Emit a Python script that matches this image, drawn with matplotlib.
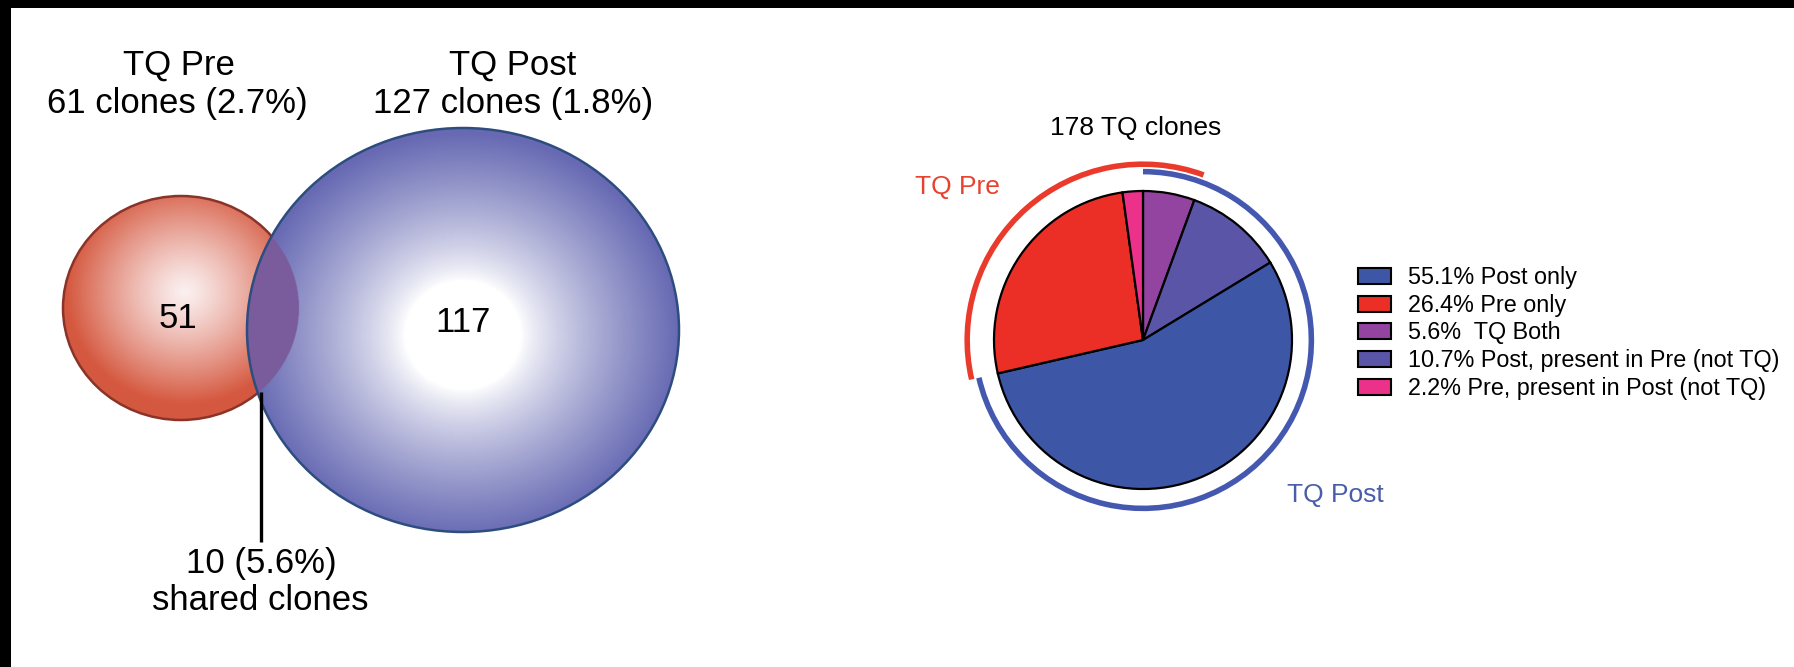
import numpy as np
import matplotlib
matplotlib.use("Agg")
import matplotlib.pyplot as plt
from matplotlib.patches import Ellipse, Arc, Rectangle, Patch
from matplotlib.colors import to_rgb

plt.rcParams["font.family"] = ["Liberation Sans", "DejaVu Sans"]

# --- data ---
venn_labels = ["TQ Pre", "TQ Post"]
venn_totals = [61, 127]
venn_pct = [2.7, 1.8]
venn_only = [51, 117]
venn_shared = 10
shared_pct = 5.6

pie_total = 178
pie_names = ["Post only", "Pre only", " TQ Both",
             "Post, present in Pre (not TQ)", "Pre, present in Post (not TQ)"]
pie_pct = [55.1, 26.4, 5.6, 10.7, 2.2]
pie_colors = ["#3D57A6", "#EC2F26", "#9343A0", "#5A55A6", "#EC318A"]
pie_order = [2, 3, 0, 1, 4]   # clockwise from 12 o'clock

W, H = 1794, 667
fig = plt.figure(figsize=(W / 100, H / 100), dpi=100)
fig.patch.set_facecolor("white")
ax = fig.add_axes([0, 0, 1, 1])

# black strips along top and left edge
ax.add_patch(Rectangle((0, 0), W, 8, color="black", lw=0))
ax.add_patch(Rectangle((0, 0), 11, H, color="black", lw=0))

# --- venn (shaded ellipses) ---
red_c, red_r, red_g = (181, 308), (118, 112), (185, 292)
blue_c, blue_r, blue_g = (463, 330), (216, 202), (463, 335)


def inside(xx, yy, c, r):
    return ((xx - c[0]) / r[0]) ** 2 + ((yy - c[1]) / r[1]) ** 2 <= 1


def shade(xx, yy, g, r, c0, c1, r0, gamma):
    rho = np.sqrt(((xx - g[0]) / r[0]) ** 2 + ((yy - g[1]) / r[1]) ** 2)
    t = np.clip((rho - r0) / (1 - r0), 0, 1) ** gamma
    return (1 - t)[..., None] * np.array(to_rgb(c0)) + t[..., None] * np.array(to_rgb(c1))


x0, x1, y0, y1 = 40, 720, 100, 560
xs = np.arange(x0, x1, 0.5) + 0.25
ys = np.arange(y0, y1, 0.5) + 0.25
xx, yy = np.meshgrid(xs, ys)
red_in = inside(xx, yy, red_c, red_r)
blue_in = inside(xx, yy, blue_c, blue_r)

img_red = np.zeros(xx.shape + (4,))
img_red[..., :3] = shade(xx, yy, red_g, red_r, "#FBF0F0", "#D5583F", 0.0, 1.2)
img_red[..., 3] = red_in

img_blue = np.zeros(xx.shape + (4,))
img_blue[..., :3] = shade(xx, yy, blue_g, blue_r, "#FFFFFF", "#676AB3", 0.27, 0.8)
img_blue[red_in & blue_in, :3] = to_rgb("#7B5C9D")
img_blue[..., 3] = blue_in

ext = (x0, x1, y1, y0)
ax.imshow(img_red, extent=ext, interpolation="bilinear", aspect="auto", zorder=1)
ax.add_patch(Ellipse(red_c, 2 * red_r[0], 2 * red_r[1], fill=False,
                     ec="#8A3328", lw=1.8, zorder=2))
ax.imshow(img_blue, extent=ext, interpolation="bilinear", aspect="auto", zorder=3)
ax.add_patch(Ellipse(blue_c, 2 * blue_r[0], 2 * blue_r[1], fill=False,
                     ec="#2D4D7F", lw=1.8, zorder=4))
ax.plot([261, 261], [392, 542], color="black", lw=2.4, zorder=5, solid_capstyle="butt")

fs_v = 25
ax.text(179, 65, venn_labels[0], ha="center", va="center", fontsize=fs_v)
ax.text(177, 103, f"{venn_totals[0]} clones ({venn_pct[0]}%)", ha="center", va="center", fontsize=fs_v)
ax.text(513, 65, venn_labels[1], ha="center", va="center", fontsize=fs_v)
ax.text(513, 103, f"{venn_totals[1]} clones ({venn_pct[1]}%)", ha="center", va="center", fontsize=fs_v)
ax.text(178, 318, str(venn_only[0]), ha="center", va="center", fontsize=fs_v, zorder=6)
ax.text(463, 322, str(venn_only[1]), ha="center", va="center", fontsize=fs_v, zorder=6)
ax.text(261, 564, f"{venn_shared} ({shared_pct}%)", ha="center", va="center", fontsize=fs_v)
ax.text(260, 601, "shared clones", ha="center", va="center", fontsize=fs_v)

# --- pie texts ---
ax.text(1136, 128, f"{pie_total} TQ clones", ha="center", va="center", fontsize=19)
ax.text(957, 187, "TQ Pre", ha="center", va="center", fontsize=19, color="#E8412F")
ax.text(1335, 495, "TQ Post", ha="center", va="center", fontsize=19, color="#4A5DA8")

ax.set_xlim(0, W)
ax.set_ylim(H, 0)
ax.axis("off")

# --- pie ---
pcx, pcy, pr = 1143, 340, 149
L = 1.35
side = 2 * L * pr
axp = fig.add_axes([(pcx - side / 2) / W, (H - pcy - side / 2) / H, side / W, side / H])
vals = [pie_pct[i] for i in pie_order]
cols = [pie_colors[i] for i in pie_order]
axp.pie(vals, colors=cols, startangle=90, counterclock=False,
        wedgeprops=dict(edgecolor="black", linewidth=1.6))

# outer arcs for TQ Post (both + post-present + post only) and TQ Pre (pre only + pre-present + both)
frac = np.cumsum([0] + vals) / 100.0
post_end = frac[3]               # end of "Post only"
pre_end = 1 + frac[1]            # wrap round to end of "TQ Both"
axp.add_patch(Arc((0, 0), 2 * 1.13, 2 * 1.13, theta1=90 - 360 * post_end, theta2=90,
                  color="#4558B0", lw=4))
axp.add_patch(Arc((0, 0), 2 * 1.18, 2 * 1.18, theta1=90 - 360 * pre_end,
                  theta2=90 - 360 * post_end, color="#EA3A2C", lw=4))
axp.set_xlim(-L, L)
axp.set_ylim(-L, L)
axp.set_aspect("equal")
axp.axis("off")

handles = [Patch(facecolor=c, edgecolor="black", linewidth=1.5) for c in pie_colors]
labels = [f"{p}% {n}" for p, n in zip(pie_pct, pie_names)]
fig.legend(handles, labels, loc="center left", bbox_to_anchor=(1358 / W, (H - 333) / H),
           frameon=False, fontsize=16.8, handlelength=1.42, handleheight=0.69,
           handletextpad=0.73, labelspacing=0.2, borderpad=0, borderaxespad=0)

fig.savefig("out.png", dpi=100)
